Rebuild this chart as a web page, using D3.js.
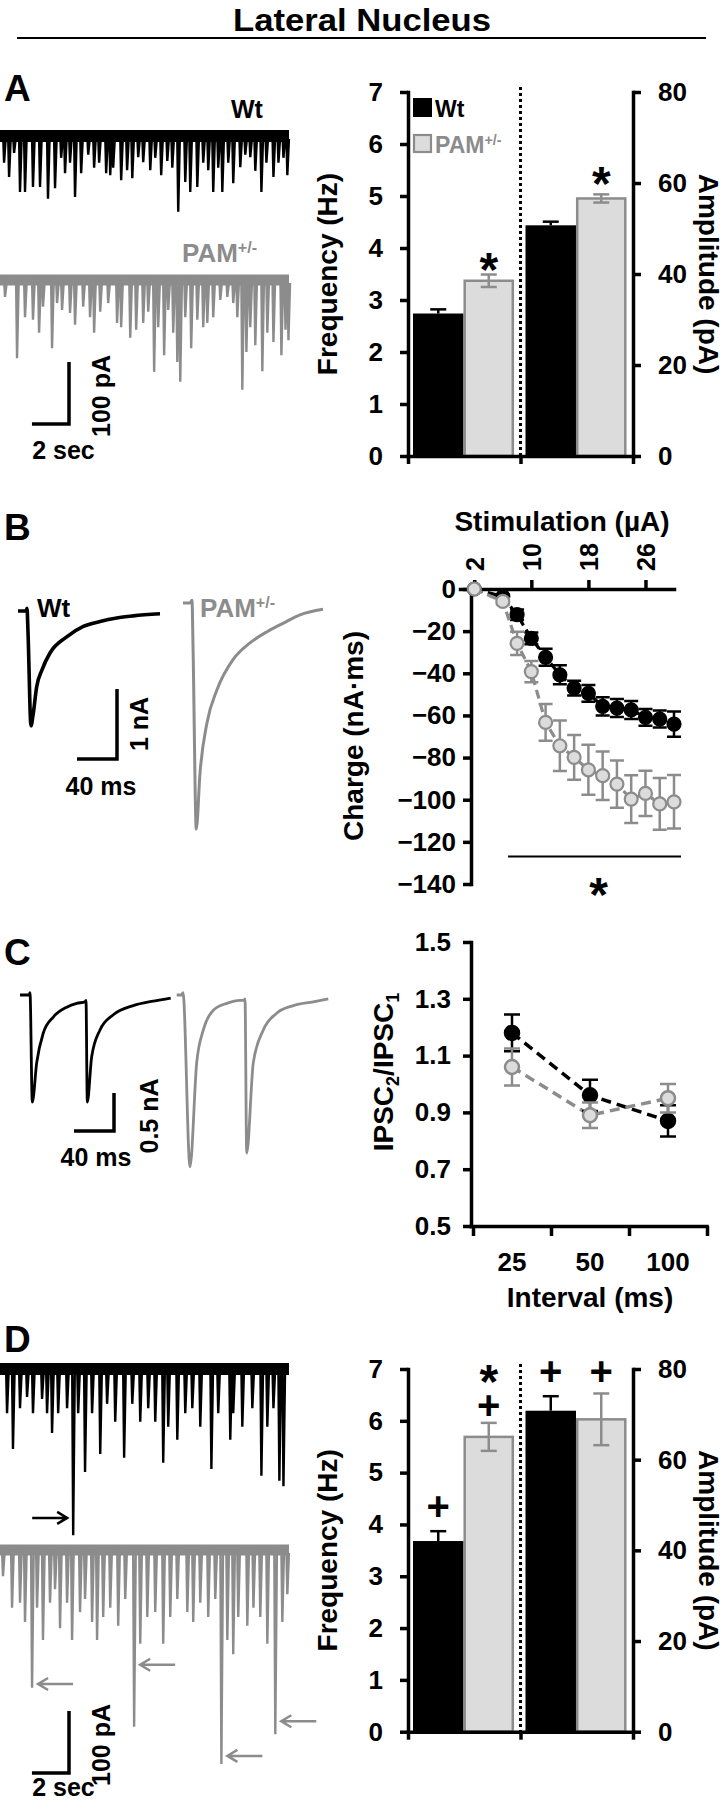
<!DOCTYPE html>
<html><head><meta charset="utf-8">
<script src="https://cdn.jsdelivr.net/npm/d3@7"></script>
<style>body{margin:0;background:#fff}</style>
</head><body>
<svg id="fig" width="725" height="1800"></svg>
<script>
// ================= DATA =================
const title = "Lateral Nucleus";
const genotypes = ["Wt", "PAM+/-"];
const measures = ["Frequency", "Amplitude"];
const freqTicks = [0,1,2,3,4,5,6,7];
const ampTicks = [0,20,40,60,80];

// Panel A bars
const freqA = [2.74, 3.37];
const freqErrA = [0.08, 0.12];
const ampA = [50.7, 56.6];
const ampErrA = [0.8, 0.9];
// Panel D bars
const freqD = [3.68, 5.69];
const freqErrD = [0.19, 0.27];
const ampD = [70.8, 68.9];
const ampErrD = [3.2, 5.7];

// Panel B input-output
const stimulation = [2,6,8,10,12,14,16,18,20,22,24,26,28,30];
const stimTicks = [2,10,18,26];
const chargeTicks = [0,-20,-40,-60,-80,-100,-120,-140];
const chargeWt = [0,-3.6,-12.2,-23.4,-32.4,-40.7,-47,-49.5,-55.7,-56.5,-57.4,-60.9,-61.7,-64.1];
const chargeWtErr = [0,1,2.5,2.8,4,4.5,3.5,4,4.3,4.3,4.3,4,4,6];
const chargePam = [0,-5.9,-25.8,-39.2,-63.3,-74.4,-79.9,-85.8,-88.6,-92.6,-99.7,-97,-102,-101];
const chargePamErr = [0,1.5,5.5,5,8.7,12,10.6,11.9,11.5,11.2,11.3,10.7,12.3,12.7];

// Panel C paired pulse
const intervals = ["25","50","100"];
const ratioTicks = [0.5,0.7,0.9,1.1,1.3,1.5];
const ratioWt = [1.18,0.96,0.87];
const ratioWtErr = [0.065,0.055,0.055];
const ratioPam = [1.06,0.89,0.95];
const ratioPamErr = [0.065,0.045,0.05];

// Spontaneous IPSC traces: [time (s), amplitude (pA)]
const traceDur = 15.6;
const sponAWt = [[0.22,48],[0.49,71],[0.76,32],[1.08,95],[1.35,95],[1.78,87],[2.16,87],[2.59,106],[2.97,89],[3.30,40],[3.51,65],[3.78,48],[4.05,103],[4.38,65],[4.76,35],[5.08,56],[5.35,48],[5.73,65],[5.95,68],[6.11,56],[6.54,76],[6.86,60],[7.14,73],[7.46,39],[7.73,47],[8.11,60],[8.38,40],[8.70,68],[9.03,45],[9.30,56],[9.62,127],[10.00,79],[10.27,95],[10.65,87],[10.97,48],[11.24,60],[11.51,95],[11.78,56],[12.00,95],[12.32,48],[12.59,81],[12.97,55],[13.24,35],[13.51,39],[13.78,61],[14.11,95],[14.38,48],[14.76,71],[15.03,48],[15.30,40],[15.51,68]];
const sponAPam = [[0.27,32],[0.92,131],[1.35,65],[1.78,69],[2.11,90],[2.32,48],[2.81,115],[3.08,42],[3.35,53],[3.78,58],[4.05,77],[4.49,48],[4.86,65],[5.08,90],[5.41,56],[5.84,42],[6.32,74],[6.54,81],[7.03,98],[7.35,85],[7.73,74],[8.00,56],[8.32,153],[8.54,81],[8.86,126],[9.08,53],[9.35,90],[9.57,137],[9.73,169],[10.00,65],[10.32,115],[10.65,69],[10.97,81],[11.19,74],[11.51,65],[11.89,37],[12.27,32],[12.59,42],[12.81,65],[13.08,182],[13.30,121],[13.51,81],[13.78,110],[14.16,152],[14.43,90],[14.76,105],[15.19,126],[15.41,85],[15.57,102]];
const sponDWt = [[0.38,76],[0.70,134],[1.08,68],[1.46,50],[1.78,76],[2.27,53],[2.54,76],[2.81,108],[3.14,76],[3.62,68],[3.95,273],[4.22,76],[4.59,171],[4.97,76],[5.41,142],[5.78,61],[6.22,90],[6.70,148],[7.14,61],[7.57,90],[8.00,68],[8.38,90],[8.81,156],[9.08,98],[9.57,119],[10.00,76],[10.38,68],[10.81,98],[11.41,166],[11.78,76],[12.43,119],[12.59,76],[13.08,98],[13.62,68],[14.11,177],[14.43,98],[14.76,68],[15.08,185],[15.30,194]];
const sponDPam = [[0.16,47],[0.65,98],[1.08,90],[1.35,121],[1.73,227],[2.00,98],[2.32,150],[2.70,90],[2.97,68],[3.24,131],[3.62,90],[3.89,150],[4.32,105],[4.59,84],[4.97,121],[5.24,150],[5.57,113],[5.95,98],[6.38,127],[6.76,84],[7.24,290],[7.57,156],[7.95,113],[8.38,105],[8.81,156],[9.19,113],[9.57,84],[10.11,105],[10.43,121],[10.81,90],[11.24,113],[11.62,84],[11.95,350],[12.27,150],[12.59,173],[12.86,113],[13.35,127],[13.68,98],[14.05,113],[14.43,156],[14.86,302],[15.24,121],[15.51,76]];
// arrows in D: [time (s), level (pA)]
const arrowDWt = [[3.95,245]];
const arrowsDPam = [[1.73,221],[7.24,190],[11.95,337],[14.86,281]];

// Evoked IPSC traces: [time (ms), current (nA)]
const evokedBWt = [[0,0],[8,0],[9,0.04],[10,-0.3],[13,-1.64],[15,-1.49],[18.7,-1.08],[24,-0.84],[32,-0.6],[48.7,-0.37],[65.3,-0.22],[82,-0.15],[98.7,-0.1],[115.3,-0.07],[142,-0.04]];
const evokedBPam = [[0,0],[7,0],[9,0.04],[10,-0.6],[13.3,-3.23],[17,-2.43],[24,-1.71],[34,-1.24],[50,-0.81],[67,-0.57],[84,-0.41],[100,-0.29],[117,-0.17],[140,-0.09]];
const pairedCWt = [[0,0],[9,0],[10,0.03],[12.3,-1.41],[16.7,-0.89],[23.3,-0.5],[33.3,-0.29],[46.7,-0.16],[56.7,-0.11],[65,-0.09],[66,-0.07],[67.3,-1.41],[71.7,-0.81],[80,-0.46],[93.3,-0.26],[113.3,-0.14],[133.3,-0.08],[150.7,-0.04]];
const pairedCPam = [[0,0],[5,0],[6.3,0.03],[13.3,-2.26],[20,-0.89],[26.6,-0.46],[36.6,-0.2],[50,-0.11],[63.3,-0.07],[67.3,-0.07],[68.3,-0.05],[70,-2.08],[76.6,-0.89],[86.6,-0.46],[100,-0.24],[116.6,-0.14],[136.6,-0.09],[151.6,-0.05]];

// ================= DRAWING =================
const svg = d3.select("#fig");
const BLACK = "#000", GRAY = "#8c8c8c", LIGHT = "#dcdcdc";
const FONT = "'Liberation Sans', Arial, sans-serif";

function txt(parent, x, y, s, size, o = {}) {
  const t = parent.append("text").attr("x", x).attr("y", y)
    .attr("font-size", size).attr("font-weight", "bold").attr("font-family", FONT)
    .attr("fill", o.fill || BLACK).attr("text-anchor", o.anchor || "start");
  if (o.rotate != null) t.attr("transform", `rotate(${o.rotate},${x},${y})`);
  t.text(s);
  return t;
}
function supTxt(parent, x, y, base, sup, size, o = {}) {
  const t = txt(parent, x, y, base, size, o);
  t.append("tspan").attr("font-size", size * 0.62).attr("dy", -size * 0.36).text(sup);
  return t;
}
function styleAxis(g, fs) {
  g.attr("font-family", FONT).attr("font-size", fs).attr("font-weight", "bold");
  g.selectAll("path.domain").attr("stroke", BLACK).attr("stroke-width", 3.5).attr("stroke-linecap", "square");
  g.selectAll(".tick line").attr("stroke", BLACK).attr("stroke-width", 3.5);
  g.selectAll(".tick text").attr("fill", BLACK);
}

// Title
txt(svg, 362, 31, title, 32, {anchor: "middle"})
  .attr("textLength", 258).attr("lengthAdjust", "spacingAndGlyphs");
svg.append("line").attr("x1", 17).attr("x2", 706).attr("y1", 38).attr("y2", 38)
  .attr("stroke", BLACK).attr("stroke-width", 2);

// Panel letters
[["A", 101], ["B", 540], ["C", 965], ["D", 1352]].forEach(([l, y]) => txt(svg, 4, y, l, 37));

// ---------- bar panels ----------
function barPanel(yBottom, yTop, freq, freqErr, amp, ampErr) {
  const g = svg.append("g");
  const yF = d3.scaleLinear().domain([0, 7]).range([yBottom, yTop]);
  const yA = d3.scaleLinear().domain([0, 80]).range([yBottom, yTop]);
  const gx = d3.scaleBand().domain(measures).range([408, 633]);
  const sx = d3.scaleBand().domain(genotypes).range([5, 106]);
  const sets = [{m: "Frequency", s: yF, v: freq, e: freqErr}, {m: "Amplitude", s: yA, v: amp, e: ampErr}];
  const centers = {};
  sets.forEach(o => genotypes.forEach((gt, i) => {
    const x = gx(o.m) + sx(gt), w = sx.bandwidth();
    const top = o.s(o.v[i]);
    g.append("rect").attr("x", x + (i ? 1.2 : 0)).attr("y", top)
      .attr("width", w - (i ? 2.4 : 0)).attr("height", yBottom - top)
      .attr("fill", i ? LIGHT : BLACK).attr("stroke", i ? GRAY : "none").attr("stroke-width", 2.5);
    const cx = x + w / 2, col = i ? GRAY : BLACK;
    const hi = o.s(o.v[i] + o.e[i]), lo = i ? o.s(o.v[i] - o.e[i]) : top;
    g.append("line").attr("x1", cx).attr("x2", cx).attr("y1", lo).attr("y2", hi).attr("stroke", col).attr("stroke-width", 2.5);
    g.append("line").attr("x1", cx - 8).attr("x2", cx + 8).attr("y1", hi).attr("y2", hi).attr("stroke", col).attr("stroke-width", 2.5);
    if (i) g.append("line").attr("x1", cx - 8).attr("x2", cx + 8).attr("y1", lo).attr("y2", lo).attr("stroke", col).attr("stroke-width", 2.5);
    centers[o.m + i] = cx;
  }));
  // divider
  const xd = gx("Amplitude");
  g.append("line").attr("x1", xd).attr("x2", xd).attr("y1", yTop - 5).attr("y2", yBottom)
    .attr("stroke", BLACK).attr("stroke-width", 3).attr("stroke-dasharray", "3,3");
  // axes
  const ga = g.append("g").attr("transform", `translate(${gx.range()[0]},0)`)
    .call(d3.axisLeft(yF).tickValues(freqTicks).tickFormat(d3.format("d")).tickSize(8).tickSizeOuter(0).tickPadding(17));
  styleAxis(ga, 26);
  const gb = g.append("g").attr("transform", `translate(${gx.range()[1]},0)`)
    .call(d3.axisRight(yA).tickValues(ampTicks).tickFormat(d3.format("d")).tickSize(8).tickSizeOuter(0).tickPadding(17));
  styleAxis(gb, 26);
  const edge = d3.scaleLinear().domain([0, measures.length]).range(gx.range());
  const gc = g.append("g").attr("transform", `translate(0,${yBottom})`)
    .call(d3.axisBottom(edge).tickValues([0, 1, 2]).tickFormat("").tickSize(8).tickSizeOuter(0));
  styleAxis(gc, 26);
  gc.selectAll(".tick text").remove();
  const mid = (yBottom + yTop) / 2;
  txt(g, 337, mid, "Frequency (Hz)", 28, {anchor: "middle", rotate: -90});
  txt(g, 699, mid, "Amplitude (pA)", 28, {anchor: "middle", rotate: 90});
  return {g, yF, yA, centers};
}

const star = (g, cx, cy) => txt(g, cx, cy + 27, "*", 48, {anchor: "middle"});
const plus = (g, cx, cy) => txt(g, cx, cy + 13, "+", 40, {anchor: "middle"});

// Panel A bars
const pA = barPanel(456, 92, freqA, freqErrA, ampA, ampErrA);
pA.g.append("rect").attr("x", 413).attr("y", 98).attr("width", 19).attr("height", 19).attr("fill", BLACK);
txt(pA.g, 435, 117, "Wt", 23);
pA.g.append("rect").attr("x", 414).attr("y", 135).attr("width", 17).attr("height", 17)
  .attr("fill", LIGHT).attr("stroke", GRAY).attr("stroke-width", 2.2);
supTxt(pA.g, 435, 153, "PAM", "+/-", 23, {fill: GRAY});
star(pA.g, pA.centers["Frequency1"], pA.yF(freqA[1] + freqErrA[1]) - 16);
star(pA.g, pA.centers["Amplitude1"], pA.yA(ampA[1] + ampErrA[1]) - 21);

// Panel D bars
const pD = barPanel(1731.7, 1369, freqD, freqErrD, ampD, ampErrD);
plus(pD.g, pD.centers["Frequency0"], pD.yF(freqD[0] + freqErrD[0]) - 24);
{
  // "*" stacked over "+" above the PAM frequency bar
  const cx = pD.centers["Frequency1"], cyPlus = pD.yF(freqD[1] + freqErrD[1]) - 17;
  const t = txt(pD.g, cx, cyPlus - 35 + 27, "*", 48, {anchor: "middle"});
  t.append("tspan").attr("x", cx).attr("dy", 21).attr("font-size", 40).text("+");
}
plus(pD.g, pD.centers["Amplitude0"], 1372);
plus(pD.g, pD.centers["Amplitude1"], 1372);

// ---------- spontaneous traces ----------
function spont(y0, spikes, color, bandW) {
  const tx = d3.scaleLinear().domain([0, traceDur]).range([0, 289]);
  const ay = d3.scaleLinear().domain([0, 100]).range([y0, y0 + 62]);
  const g = svg.append("g");
  g.append("line").attr("x1", tx(0)).attr("x2", tx(traceDur)).attr("y1", y0 + 3).attr("y2", y0 + 3)
    .attr("stroke", color).attr("stroke-width", bandW);
  g.append("path")
    .attr("d", spikes.map(([t, a]) => `M${tx(t) - 1},${y0}L${tx(t)},${ay(a)}L${tx(t) + 1.6},${y0 + 6}`).join(""))
    .attr("fill", "none").attr("stroke", color).attr("stroke-width", 2.4);
  return {g, tx, ay};
}
function scaleBar(sc, xr, ybot, amp, secs, ampLabel, timeLabel, lblY, ampX) {
  const h = sc.ay(amp) - sc.ay(0), w = sc.tx(secs) - sc.tx(0);
  svg.append("path").attr("d", `M${xr},${ybot - h}V${ybot}H${xr - w}`)
    .attr("fill", "none").attr("stroke", BLACK).attr("stroke-width", 3.5);
  txt(svg, ampX, ybot - h / 2 + 3, ampLabel, 25, {anchor: "middle", rotate: -90});
  txt(svg, xr - w / 2 + 13, lblY, timeLabel, 25, {anchor: "middle"});
}

const aWt = spont(133, sponAWt, BLACK, 12);
txt(svg, 231, 118, "Wt", 25);
const aPam = spont(277, sponAPam, GRAY, 11);
supTxt(svg, 182, 262, "PAM", "+/-", 26, {fill: GRAY});
scaleBar(aWt, 69, 424, 100, 2, "100 pA", "2 sec", 459, 110);

const dWt = spont(1366, sponDWt, BLACK, 12);
const dPam = spont(1547, sponDPam, GRAY, 11);
scaleBar(dWt, 69, 1773, 100, 2, "100 pA", "2 sec", 1796, 110);

function arrow(sc, y0, t, lvl, color, dir) {
  const tip = sc.tx(t) - dir * 6, y = y0 + (sc.ay(lvl) - sc.ay(0)), tail = tip - dir * 35;
  svg.append("path").attr("d", `M${tail},${y}H${tip}M${tip - dir * 10},${y - 6}L${tip},${y}L${tip - dir * 10},${y + 6}`)
    .attr("fill", "none").attr("stroke", color).attr("stroke-width", 2.5);
}
arrowDWt.forEach(([t, l]) => arrow(dWt, 1366, t, l, BLACK, 1));
arrowsDPam.forEach(([t, l]) => arrow(dPam, 1547, t, l, GRAY, -1));

// ---------- evoked traces ----------
function evoked(x0, y0, pts, color, msPx, nAPx, sw) {
  const x = d3.scaleLinear().domain([0, 1]).range([x0, x0 + msPx]);
  const y = d3.scaleLinear().domain([0, -1]).range([y0, y0 + nAPx]);
  svg.append("path").attr("d", d3.line().x(d => x(d[0])).y(d => y(d[1])).curve(d3.curveMonotoneX)(pts))
    .attr("fill", "none").attr("stroke", color).attr("stroke-width", sw).attr("stroke-linejoin", "round");
  return {x, y};
}
const bW = evoked(18, 611, evokedBWt, BLACK, 1, 70, 3.6);
evoked(183, 603, evokedBPam, GRAY, 1, 70, 3);
txt(svg, 37, 617, "Wt", 26);
supTxt(svg, 200, 617, "PAM", "+/-", 26, {fill: GRAY});
{
  const h = bW.y(-1) - bW.y(0), w = bW.x(40) - bW.x(0);
  svg.append("path").attr("d", `M117,${759 - h}V759H${117 - w}`).attr("fill", "none").attr("stroke", BLACK).attr("stroke-width", 3.5);
  txt(svg, 148, 759 - h / 2, "1 nA", 25, {anchor: "middle", rotate: -90});
  txt(svg, 101, 795, "40 ms", 25, {anchor: "middle"});
}
const cW = evoked(20, 995, pairedCWt, BLACK, 1, 76, 2.8);
evoked(176.7, 995, pairedCPam, GRAY, 1, 76, 2.8);
{
  const h = cW.y(-0.5) - cW.y(0), w = cW.x(40) - cW.x(0);
  svg.append("path").attr("d", `M114,${1131 - h}V1131H${114 - w}`).attr("fill", "none").attr("stroke", BLACK).attr("stroke-width", 3.5);
  txt(svg, 158, 1131 - h / 2 + 4, "0.5 nA", 25, {anchor: "middle", rotate: -90});
  txt(svg, 96, 1166, "40 ms", 25, {anchor: "middle"});
}

// ---------- Panel B chart ----------
{
  const g = svg.append("g");
  const xS = d3.scaleLinear().domain([0, 30]).range([460, 674]);
  const yS = d3.scaleLinear().domain([-140, 0]).range([884, 589]);
  const gy = g.append("g").attr("transform", "translate(471,0)")
    .call(d3.axisLeft(yS).tickValues(chargeTicks).tickFormat(d3.format("d")).tickSize(8).tickSizeOuter(0).tickPadding(7));
  styleAxis(gy, 26);
  const gxA = g.append("g").attr("transform", `translate(0,${yS(0)})`)
    .call(d3.axisTop(xS).tickValues(stimTicks).tickSize(9).tickSizeOuter(0));
  styleAxis(gxA, 25);
  gxA.selectAll(".tick text").attr("transform", "rotate(-90)").attr("text-anchor", "start")
    .attr("x", 18).attr("y", 9).attr("dy", 0);
  txt(g, 562, 531, "Stimulation (µA)", 28, {anchor: "middle"});
  txt(g, 363, 736, "Charge (nA·ms)", 28, {anchor: "middle", rotate: -90});

  const series = [
    {v: chargeWt, e: chargeWtErr, c: BLACK, f: BLACK},
    {v: chargePam, e: chargePamErr, c: GRAY, f: LIGHT}
  ];
  series.forEach(s => {
    const pts = stimulation.map((x, i) => [x, s.v[i], s.e[i]]);
    g.append("path").attr("d", d3.line().x(d => xS(d[0])).y(d => yS(d[1]))(pts))
      .attr("fill", "none").attr("stroke", s.c).attr("stroke-width", 3.2).attr("stroke-dasharray", "9,5");
    pts.forEach(([x, v, e]) => {
      if (e <= 0) return;
      const cx = xS(x);
      g.append("path").attr("d", `M${cx},${yS(v - e)}V${yS(v + e)}M${cx - 7},${yS(v + e)}H${cx + 7}M${cx - 7},${yS(v - e)}H${cx + 7}`)
        .attr("fill", "none").attr("stroke", s.c).attr("stroke-width", 2.5);
    });
    g.selectAll(null).data(pts).join("circle").attr("cx", d => xS(d[0])).attr("cy", d => yS(d[1])).attr("r", 6.5)
      .attr("fill", s.f).attr("stroke", s.c).attr("stroke-width", 2.2);
  });
  const ySig = yS(-127);
  g.append("line").attr("x1", xS(stimulation[2]) - 9).attr("x2", xS(stimulation[13]) + 7).attr("y1", ySig).attr("y2", ySig)
    .attr("stroke", BLACK).attr("stroke-width", 2);
  star(g, (xS(stimulation[2]) + xS(stimulation[13])) / 2 + 3, 884);
}

// ---------- Panel C chart ----------
{
  const g = svg.append("g");
  const xB = d3.scaleBand().domain(intervals).range([473, 707]);
  const yC = d3.scaleLinear().domain([0.5, 1.5]).range([1226, 942]);
  const gy = g.append("g").attr("transform", "translate(471,0)")
    .call(d3.axisLeft(yC).tickValues(ratioTicks).tickFormat(d3.format(".1f")).tickSize(8).tickSizeOuter(0).tickPadding(12));
  styleAxis(gy, 26);
  const edge = d3.scaleLinear().domain([0, intervals.length]).range(xB.range());
  const ge = g.append("g").attr("transform", "translate(0,1226)")
    .call(d3.axisBottom(edge).tickValues([0, 1, 2, 3]).tickFormat("").tickSize(10).tickSizeOuter(0));
  styleAxis(ge, 26);
  ge.selectAll(".tick text").remove();
  ge.select("path.domain").attr("d", `M471,0.5H${xB.range()[1]}`);
  const gl = g.append("g").attr("transform", "translate(0,1226)")
    .call(d3.axisBottom(xB).tickSize(0).tickPadding(27));
  styleAxis(gl, 26);
  gl.select("path.domain").remove();
  txt(g, 590, 1307, "Interval (ms)", 28, {anchor: "middle"});
  const yl = txt(g, 393, 1072, "IPSC", 28, {anchor: "middle", rotate: -90});
  yl.append("tspan").attr("font-size", 18).attr("dy", 6).text("2");
  yl.append("tspan").attr("dy", -6).text("/IPSC");
  yl.append("tspan").attr("font-size", 18).attr("dy", 6).text("1");

  const series = [
    {v: ratioWt, e: ratioWtErr, c: BLACK, f: BLACK},
    {v: ratioPam, e: ratioPamErr, c: GRAY, f: LIGHT}
  ];
  const cxOf = k => xB(k) + xB.bandwidth() / 2;
  series.forEach(s => {
    const pts = intervals.map((k, i) => [k, s.v[i], s.e[i]]);
    g.append("path").attr("d", d3.line().x(d => cxOf(d[0])).y(d => yC(d[1]))(pts))
      .attr("fill", "none").attr("stroke", s.c).attr("stroke-width", 3.5).attr("stroke-dasharray", "10,6");
  });
  series.forEach(s => {
    const pts = intervals.map((k, i) => [k, s.v[i], s.e[i]]);
    pts.forEach(([k, v, e]) => {
      const cx = cxOf(k);
      g.append("path").attr("d", `M${cx},${yC(v - e)}V${yC(v + e)}M${cx - 8},${yC(v + e)}H${cx + 8}M${cx - 8},${yC(v - e)}H${cx + 8}`)
        .attr("fill", "none").attr("stroke", s.c).attr("stroke-width", 2.5);
    });
    g.selectAll(null).data(pts).join("circle").attr("cx", d => cxOf(d[0])).attr("cy", d => yC(d[1])).attr("r", 7)
      .attr("fill", s.f).attr("stroke", s.c).attr("stroke-width", 2.5);
  });
}
</script>
</body></html>
